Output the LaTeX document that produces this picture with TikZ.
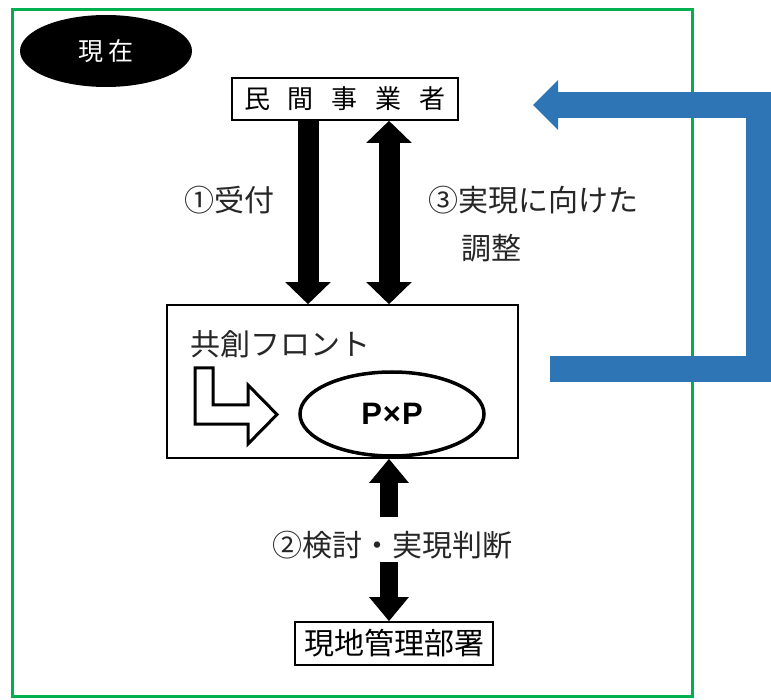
\documentclass[tikz,border=0pt]{standalone}
\usepackage{fontspec}
\setmainfont{Noto Sans CJK JP}
\newfontfamily\pxpfont{Liberation Sans}
\usetikzlibrary{arrows.meta,shapes.geometric}
\definecolor{framegreen}{RGB}{0,176,80}
\definecolor{arrowblue}{RGB}{46,117,182}
\begin{document}
\begin{tikzpicture}[x=1pt,y=-1pt,
  lbl/.style={font=\fontsize{30pt}{33pt}\selectfont, inner sep=0pt, text=black!85},
  boxnode/.style={draw, line width=1.6pt, inner sep=0pt, font=\fontsize{30pt}{33pt}\selectfont},
  fatarrow/.style={line width=21pt, -{Triangle[length=22pt,width=44pt]}},
  dblarrow/.style={line width=21pt, {Triangle[length=22pt,width=44pt]}-{Triangle[length=22pt,width=44pt]}},
  midarrow/.style={line width=18pt, -{Triangle[length=24pt,width=38pt]}},
]
\useasboundingbox (0,0) rectangle (771,700);
\fill[white] (0,0) rectangle (771,700);
\draw[framegreen, line width=3pt] (12,10) rectangle (692,696);

% title ellipse
\node[ellipse, fill=black, minimum width=172pt, minimum height=72pt, inner sep=0pt,
      text=white, font=\fontsize{25pt}{28pt}\selectfont] (now) at (106,51) {現\hspace{5pt}在};

% boxes
\node[boxnode, minimum width=226pt, minimum height=42pt, font=\fontsize{26pt}{28pt}\selectfont]
  (minkan) at (345,99) {民\hspace{18pt}間\hspace{18pt}事\hspace{18pt}業\hspace{18pt}者};
\node[draw, line width=1.6pt, minimum width=351pt, minimum height=153pt, inner sep=0pt] (front) at (342.5,381.5) {};
\node[boxnode, minimum width=198pt, minimum height=43pt] (genchi) at (394,643.5) {現地管理部署};

% inside front
\node[lbl, anchor=west] (frontlbl) at (190,344) {共創フロント};
\node[ellipse, draw, line width=3.5pt, minimum width=184pt, minimum height=84pt, inner sep=0pt,
      font=\pxpfont\bfseries\fontsize{31pt}{34pt}\selectfont] (pxp) at (392,414) {P\kern1pt×\kern1pt P};
\draw[line width=3pt, fill=white, line join=miter]
  (195,368) -- (213,368) -- (213,405) -- (248,405) -- (248,385) -- (277,414.5)
  -- (248,444) -- (248,424) -- (195,424) -- cycle;

% column coordinates
\coordinate (c1) at (308,0);
\coordinate (c3) at (389,0);
\coordinate (c2) at (389,0);

% arrows top
\draw[fatarrow] (minkan.south -| c1) -- (front.north -| c1);
\draw[dblarrow] (minkan.south -| c3) -- (front.north -| c3);

% arrows bottom
\coordinate (m1) at (389,517);
\coordinate (m2) at (389,562);
\draw[midarrow] (m1) -- (front.south -| c2);
\draw[midarrow] (m2) -- (genchi.north -| c2);

% labels
\node[lbl] (l1) at (229,200) {①受付};
\node[lbl] (l3) at (533,200) {③実現に向けた};
\node[lbl] (l3b) at (491,248) {調整};
\node[lbl] (l2) at (392,545) {②検討・実現判断};

% blue feedback arrow
\coordinate (bs) at (550,369);
\coordinate (bc) at (759,105);
\coordinate (be) at (533,105);
\draw[arrowblue, line width=26pt, line join=miter, -{Triangle[length=25pt,width=48pt]}]
  (bs) -| (bc) -- (be);
\end{tikzpicture}
\end{document}
